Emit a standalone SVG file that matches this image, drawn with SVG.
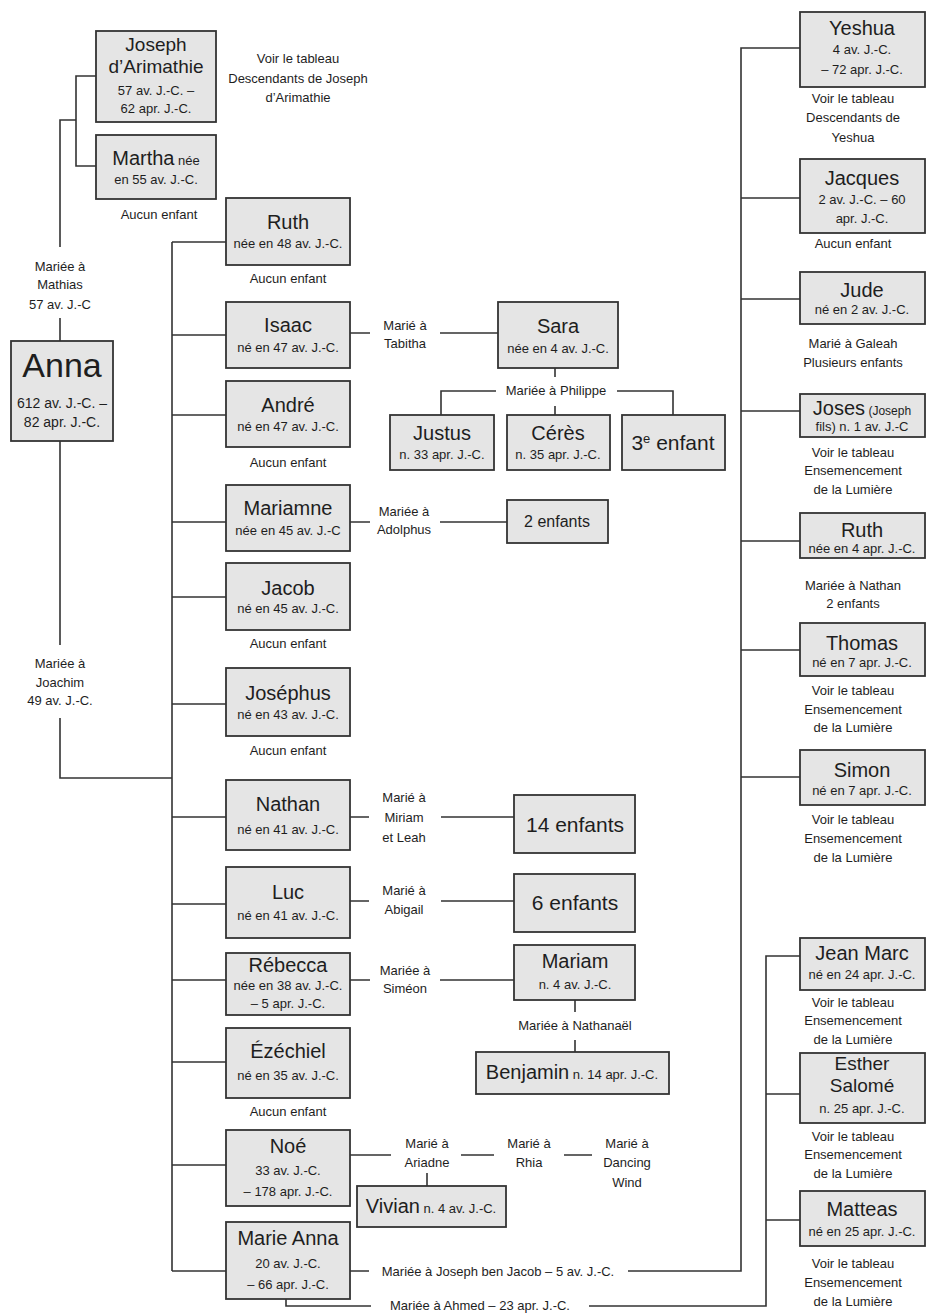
<svg xmlns="http://www.w3.org/2000/svg" width="927" height="1316" viewBox="0 0 927 1316">
<style>
text{font-family:"Liberation Sans Narrow","Liberation Sans",sans-serif;fill:#1e1e1e;text-anchor:middle}
.box{fill:#e5e5e5;stroke:#333;stroke-width:1.8}
.ln{fill:none;stroke:#333;stroke-width:1.6}
.nm{font-size:20px}
.nm2{font-size:19px}
.sb{font-size:13px}
.lb{font-size:13px}
.big{font-size:34px}
.kid{font-size:21px}
</style>
<rect width="927" height="1316" fill="#fff"/>
<g id="connectors" class="ln">
<path d="M96,76 H76 V166 H96 M76,120 H60 V247 M60,318 V341"/>
<path d="M60,441 V645 M60,718 V778 H172"/>
<path d="M172,242 V1271 M172,242 H226 M172,335 H226 M172,415 H226 M172,522 H226 M172,597 H226 M172,704 H226 M172,817 H226 M172,904 H226 M172,980 H226 M172,1062 H226 M172,1165 H226 M172,1271 H226"/>
<path d="M350,333 H370 M440,333 H498"/>
<path d="M555,368 V377 M441,415 V391 H496 M617,391 H673 V415 M555,406 V415"/>
<path d="M350,522 H370 M440,522 H507"/>
<path d="M350,817 H369 M441,817 H514"/>
<path d="M350,901 H369 M441,901 H514"/>
<path d="M350,980 H370 M440,980 H514"/>
<path d="M575,1000 V1012 M575,1040 V1052"/>
<path d="M350,1155 H391 M461,1155 H494 M564,1155 H592 M427,1173 V1186"/>
<path d="M350,1271 H369 M628,1271 H741 V48 H800 M741,198 H800 M741,299 H800 M741,411 H800 M741,541 H800 M741,650 H800 M741,777 H800"/>
<path d="M286,1299 V1306 H371 M589,1306 H766 V956 H800 M766,1094 H800 M766,1220 H800"/>
</g>
<g id="joseph"><rect class="box" x="96" y="31" width="120" height="91"/><text x="156" y="51" class="nm2">Joseph</text><text x="156" y="73" class="nm2">d’Arimathie</text><text x="156" y="95" class="sb">57 av. J.-C. –</text><text x="156" y="113" class="sb">62 apr. J.-C.</text></g>
<g id="joseph-note"><text x="298" y="63" class="lb">Voir le tableau</text><text x="298" y="83" class="lb">Descendants de Joseph</text><text x="298" y="102" class="lb">d’Arimathie</text></g>
<g id="martha"><rect class="box" x="96" y="135" width="120" height="64"/><text x="156" y="165"><tspan class="nm">Martha</tspan><tspan class="sb"> née</tspan></text><text x="156" y="184" class="sb">en 55 av. J.-C.</text><text x="159" y="219" class="lb">Aucun enfant</text></g>
<g id="mathias"><text x="60" y="271" class="lb">Mariée à</text><text x="60" y="289" class="lb">Mathias</text><text x="60" y="309" class="lb">57 av. J.-C</text></g>
<g id="anna"><rect class="box" x="11" y="341" width="102" height="100"/><text x="62" y="377" class="big">Anna</text><text x="62" y="408" style="font-size:14px">612 av. J.-C. –</text><text x="62" y="427" style="font-size:14px">82 apr. J.-C.</text></g>
<g id="joachim"><text x="60" y="668" class="lb">Mariée à</text><text x="60" y="687" class="lb">Joachim</text><text x="60" y="705" class="lb">49 av. J.-C.</text></g>
<g id="ruth"><rect class="box" x="226" y="198" width="124" height="67"/><text x="288" y="229" class="nm">Ruth</text><text x="288" y="248" class="sb">née en 48 av. J.-C.</text><text x="288" y="283" class="lb">Aucun enfant</text></g>
<g id="isaac"><rect class="box" x="226" y="302" width="124" height="66"/><text x="288" y="332" class="nm">Isaac</text><text x="288" y="352" class="sb">né en 47 av. J.-C.</text></g>
<g id="tabitha"><text x="405" y="330" class="lb">Marié à</text><text x="405" y="348" class="lb">Tabitha</text></g>
<g id="sara"><rect class="box" x="498" y="302" width="120" height="66"/><text x="558" y="333" class="nm">Sara</text><text x="558" y="353" class="sb">née en 4 av. J.-C.</text></g>
<g id="philippe"><text x="556" y="395" class="lb">Mariée à Philippe</text></g>
<g id="justus"><rect class="box" x="390" y="415" width="104" height="55"/><text x="442" y="440" class="nm">Justus</text><text x="442" y="459" class="sb">n. 33 apr. J.-C.</text></g>
<g id="ceres"><rect class="box" x="507" y="415" width="103" height="55"/><text x="558" y="440" class="nm">Cérès</text><text x="558" y="459" class="sb">n. 35 apr. J.-C.</text></g>
<g id="enfant3"><rect class="box" x="622" y="415" width="103" height="55"/><text x="673" y="450" class="kid">3<tspan style="font-size:13px" baseline-shift="super">e</tspan> enfant</text></g>
<g id="andre"><rect class="box" x="226" y="381" width="124" height="66"/><text x="288" y="412" class="nm">André</text><text x="288" y="431" class="sb">né en 47 av. J.-C.</text><text x="288" y="467" class="lb">Aucun enfant</text></g>
<g id="mariamne"><rect class="box" x="226" y="485" width="124" height="66"/><text x="288" y="515" class="nm">Mariamne</text><text x="288" y="535" class="sb">née en 45 av. J.-C</text></g>
<g id="adolphus"><text x="404" y="516" class="lb">Mariée à</text><text x="404" y="534" class="lb">Adolphus</text></g>
<g id="enfants2"><rect class="box" x="507" y="500" width="101" height="43"/><text x="557" y="527" style="font-size:16px">2 enfants</text></g>
<g id="jacob"><rect class="box" x="226" y="563" width="124" height="67"/><text x="288" y="595" class="nm">Jacob</text><text x="288" y="613" class="sb">né en 45 av. J.-C.</text><text x="288" y="648" class="lb">Aucun enfant</text></g>
<g id="josephus"><rect class="box" x="226" y="668" width="124" height="68"/><text x="288" y="700" class="nm">Joséphus</text><text x="288" y="719" class="sb">né en 43 av. J.-C.</text><text x="288" y="755" class="lb">Aucun enfant</text></g>
<g id="nathan"><rect class="box" x="226" y="780" width="124" height="70"/><text x="288" y="811" class="nm">Nathan</text><text x="288" y="834" class="sb">né en 41 av. J.-C.</text></g>
<g id="miriam"><text x="404" y="802" class="lb">Marié à</text><text x="404" y="822" class="lb">Miriam</text><text x="404" y="842" class="lb">et Leah</text></g>
<g id="enfants14"><rect class="box" x="514" y="795" width="121" height="58"/><text x="575" y="832" class="kid">14 enfants</text></g>
<g id="luc"><rect class="box" x="226" y="867" width="124" height="71"/><text x="288" y="899" class="nm">Luc</text><text x="288" y="920" class="sb">né en 41 av. J.-C.</text></g>
<g id="abigail"><text x="404" y="895" class="lb">Marié à</text><text x="404" y="914" class="lb">Abigail</text></g>
<g id="enfants6"><rect class="box" x="514" y="874" width="121" height="58"/><text x="575" y="910" class="kid">6 enfants</text></g>
<g id="rebecca"><rect class="box" x="226" y="953" width="124" height="62"/><text x="288" y="972" class="nm">Rébecca</text><text x="288" y="990" class="sb">née en 38 av. J.-C.</text><text x="288" y="1008" class="sb">– 5 apr. J.-C.</text></g>
<g id="simeon"><text x="405" y="975" class="lb">Mariée à</text><text x="405" y="993" class="lb">Siméon</text></g>
<g id="mariam"><rect class="box" x="514" y="945" width="121" height="55"/><text x="575" y="968" class="nm">Mariam</text><text x="575" y="989" class="sb">n. 4 av. J.-C.</text></g>
<g id="nathanael"><text x="575" y="1030" class="lb">Mariée à Nathanaël</text></g>
<g id="benjamin"><rect class="box" x="476" y="1052" width="193" height="42"/><text x="572" y="1079"><tspan class="nm">Benjamin</tspan><tspan class="sb"> n. 14 apr. J.-C.</tspan></text></g>
<g id="ezechiel"><rect class="box" x="226" y="1028" width="124" height="70"/><text x="288" y="1058" class="nm">Ézéchiel</text><text x="288" y="1080" class="sb">né en 35 av. J.-C.</text><text x="288" y="1116" class="lb">Aucun enfant</text></g>
<g id="noe"><rect class="box" x="226" y="1130" width="124" height="76"/><text x="288" y="1153" class="nm">Noé</text><text x="288" y="1175" class="sb">33 av. J.-C.</text><text x="288" y="1196" class="sb">– 178 apr. J.-C.</text></g>
<g id="ariadne"><text x="427" y="1148" class="lb">Marié à</text><text x="427" y="1167" class="lb">Ariadne</text></g>
<g id="rhia"><text x="529" y="1148" class="lb">Marié à</text><text x="529" y="1167" class="lb">Rhia</text></g>
<g id="dancing"><text x="627" y="1148" class="lb">Marié à</text><text x="627" y="1167" class="lb">Dancing</text><text x="627" y="1187" class="lb">Wind</text></g>
<g id="vivian"><rect class="box" x="357" y="1186" width="149" height="41"/><text x="431" y="1213"><tspan class="nm">Vivian</tspan><tspan class="sb"> n. 4 av. J.-C.</tspan></text></g>
<g id="marie-anna"><rect class="box" x="226" y="1222" width="124" height="77"/><text x="288" y="1245" class="nm">Marie Anna</text><text x="288" y="1268" class="sb">20 av. J.-C.</text><text x="288" y="1289" class="sb">– 66 apr. J.-C.</text></g>
<g id="ben-jacob"><text x="498" y="1276" class="lb">Mariée à Joseph ben Jacob – 5 av. J.-C.</text></g>
<g id="ahmed"><text x="480" y="1310" class="lb">Mariée à Ahmed – 23 apr. J.-C.</text></g>
<g id="yeshua"><rect class="box" x="800" y="12" width="125" height="75"/><text x="862" y="35" class="nm">Yeshua</text><text x="862" y="54" class="sb">4 av. J.-C.</text><text x="862" y="74" class="sb">– 72 apr. J.-C.</text><text x="853" y="103" class="lb">Voir le tableau</text><text x="853" y="122" class="lb">Descendants de</text><text x="853" y="142" class="lb">Yeshua</text></g>
<g id="jacques"><rect class="box" x="800" y="159" width="125" height="74"/><text x="862" y="185" class="nm">Jacques</text><text x="862" y="204" class="sb">2 av. J.-C. – 60</text><text x="862" y="223" class="sb">apr. J.-C.</text><text x="853" y="248" class="lb">Aucun enfant</text></g>
<g id="jude"><rect class="box" x="800" y="272" width="125" height="52"/><text x="862" y="297" class="nm">Jude</text><text x="862" y="314" class="sb">né en 2 av. J.-C.</text><text x="853" y="348" class="lb">Marié à Galeah</text><text x="853" y="367" class="lb">Plusieurs enfants</text></g>
<g id="joses"><rect class="box" x="800" y="394" width="125" height="43"/><text x="862" y="415"><tspan class="nm">Joses</tspan><tspan style="font-size:12px"> (Joseph</tspan></text><text x="862" y="431" class="sb">fils) n. 1 av. J.-C</text><text x="853" y="457" class="lb">Voir le tableau</text><text x="853" y="475" class="lb">Ensemencement</text><text x="853" y="494" class="lb">de la Lumière</text></g>
<g id="ruth2"><rect class="box" x="800" y="513" width="125" height="45"/><text x="862" y="537" class="nm">Ruth</text><text x="862" y="553" class="sb">née en 4 apr. J.-C.</text><text x="853" y="590" class="lb">Mariée à Nathan</text><text x="853" y="608" class="lb">2 enfants</text></g>
<g id="thomas"><rect class="box" x="800" y="623" width="125" height="53"/><text x="862" y="650" class="nm">Thomas</text><text x="862" y="667" class="sb">né en 7 apr. J.-C.</text><text x="853" y="695" class="lb">Voir le tableau</text><text x="853" y="714" class="lb">Ensemencement</text><text x="853" y="732" class="lb">de la Lumière</text></g>
<g id="simon"><rect class="box" x="800" y="750" width="125" height="55"/><text x="862" y="777" class="nm">Simon</text><text x="862" y="795" class="sb">né en 7 apr. J.-C.</text><text x="853" y="824" class="lb">Voir le tableau</text><text x="853" y="843" class="lb">Ensemencement</text><text x="853" y="862" class="lb">de la Lumière</text></g>
<g id="jean-marc"><rect class="box" x="800" y="938" width="125" height="52"/><text x="862" y="960" class="nm">Jean Marc</text><text x="862" y="979" class="sb">né en 24 apr. J.-C.</text><text x="853" y="1007" class="lb">Voir le tableau</text><text x="853" y="1025" class="lb">Ensemencement</text><text x="853" y="1044" class="lb">de la Lumière</text></g>
<g id="esther"><rect class="box" x="800" y="1053" width="125" height="70"/><text x="862" y="1070" class="nm2">Esther</text><text x="862" y="1092" class="nm2">Salomé</text><text x="862" y="1113" class="sb">n. 25 apr. J.-C.</text><text x="853" y="1141" class="lb">Voir le tableau</text><text x="853" y="1159" class="lb">Ensemencement</text><text x="853" y="1178" class="lb">de la Lumière</text></g>
<g id="matteas"><rect class="box" x="800" y="1191" width="125" height="55"/><text x="862" y="1216" class="nm">Matteas</text><text x="862" y="1236" class="sb">né en 25 apr. J.-C.</text><text x="853" y="1268" class="lb">Voir le tableau</text><text x="853" y="1287" class="lb">Ensemencement</text><text x="853" y="1306" class="lb">de la Lumière</text></g>
</svg>
